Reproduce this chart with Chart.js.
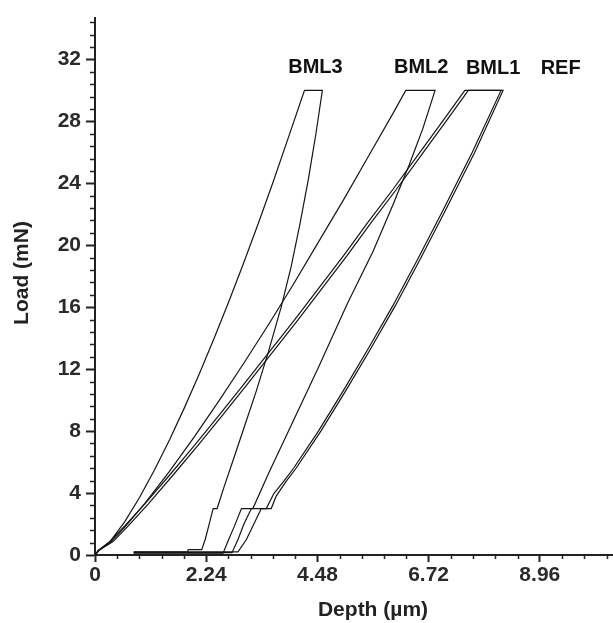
<!DOCTYPE html>
<html><head><meta charset="utf-8">
<script src="https://cdn.jsdelivr.net/npm/chart.js@4.4.0/dist/chart.umd.min.js"></script>
<style>
html,body{margin:0;padding:0;background:#fff;overflow:hidden;width:613px;height:623px}
#wrap{position:relative;width:652px;height:623px}
</style></head><body><div id="wrap"><canvas id="c" width="652" height="623"></canvas></div>
<script>
// ---- data (depth in µm, load in mN) ----
const seriesNames = ['REF', 'BML1', 'BML2', 'BML3'];

const refDepth = [0,0.08,0.37,0.67,1.07,1.57,2.07,2.57,3.07,3.57,4.07,4.57,5.07,5.57,6.07,6.57,7.07,7.52,
  8.22,7.65,7.05,6.55,6.05,5.55,5.05,4.55,4.05,3.85,3.65,3.55,3.35,3.2,3.05,2.88,0.78];
const refLoad  = [0,0.3,0.88,1.88,3.29,5.15,7.06,9.03,11.03,13.07,15.1,17.2,19.3,21.5,23.6,25.8,28.0,30,
  30,26.0,22.2,19.1,16.1,13.3,10.6,8.0,5.6,4.75,3.8,3.0,3.0,2.0,1.0,0.2,0.2];

const bml1Depth = [0,0.08,0.3,0.6,1.0,1.5,2.0,2.5,3.0,3.5,4.0,4.5,5.0,5.5,6.0,6.5,7.0,7.45,
  8.18,7.6,7.0,6.5,6.0,5.5,5.0,4.5,4.0,3.8,3.6,3.45,3.15,3.0,2.88,2.76,0.78];
const bml1Load  = [0,0.3,0.88,1.88,3.29,5.15,7.06,9.03,11.03,13.07,15.1,17.2,19.3,21.5,23.6,25.8,28.0,30,
  30,26.0,22.2,19.1,16.1,13.3,10.6,8.0,5.6,4.75,3.95,3.0,3.0,2.0,1.0,0.15,0.15];

const bml2Depth = [0,0.08,0.3,0.6,1.0,1.5,2.0,2.5,3.0,3.5,4.0,4.5,5.0,5.5,6.0,6.26,
  6.85,6.6,6.33,6.0,5.6,5.08,4.5,4.0,3.5,3.18,2.95,2.8,2.68,2.58,0.78];
const bml2Load  = [0,0.3,0.78,1.80,3.32,5.40,7.63,9.97,12.4,14.9,17.5,20.2,22.9,25.7,28.5,30,
  30,27.5,25.2,22.6,19.6,16.2,12.1,8.7,5.3,3.0,3.0,1.8,0.9,0.12,0.12];

const bml3Depth = [0,0.06,0.3,0.6,0.9,1.2,1.5,1.8,2.1,2.4,2.7,3.0,3.3,3.6,3.9,4.22,
  4.58,4.45,4.3,4.13,3.95,3.75,3.5,3.25,3.0,2.78,2.6,2.46,2.38,2.3,2.22,2.15,1.88,1.86,0.78];
const bml3Load  = [0,0.3,0.85,2.16,3.73,5.50,7.43,9.50,11.69,14.0,16.4,18.9,21.5,24.2,27.0,30,
  30,27.2,24.3,21.4,18.6,16.0,13.2,10.6,8.2,6.1,4.4,3.0,3.0,2.0,1.0,0.35,0.35,0.18,0.18];

// tick label values
const xMajorTicks = [0, 2.24, 4.48, 6.72, 8.96];
const yMajorTicks = [0, 4, 8, 12, 16, 20, 24, 28, 32];

// curve label anchors (depth, load)
const labelDepth = [9.38, 8.02, 6.57, 4.44];
const labelLoad  = [31.4, 31.4, 31.5, 31.5];

// ---- chart ----
function pts(d, l){ return d.map((v,i)=>({x:v, y:l[i]})); }
const allDepth = [refDepth, bml1Depth, bml2Depth, bml3Depth];
const allLoad  = [refLoad, bml1Load, bml2Load, bml3Load];

const datasets = seriesNames.map((n,i)=>({
  label:n, data:pts(allDepth[i], allLoad[i]), showLine:true, pointRadius:0,
  borderColor:'#151515', borderWidth:1.2, tension:0, fill:false
}));

const isMajorX = v => xMajorTicks.some(t=>Math.abs(t-v)<1e-6);
const isMajorY = v => yMajorTicks.some(t=>Math.abs(t-v)<1e-6);
const FONT = '"Liberation Sans", Arial, sans-serif';

const extras = {
  id:'extras',
  afterDraw(chart){
    const ctx = chart.ctx; ctx.save();
    ctx.strokeStyle='#222'; ctx.lineWidth=1.5;
    const xs = chart.scales.x, ys = chart.scales.y, ca = chart.chartArea;
    xs.ticks.forEach(t=>{ if(!isMajorX(t.value)){ const p=Math.round(xs.getPixelForValue(t.value))+0.5;
      ctx.beginPath(); ctx.moveTo(p, ca.bottom); ctx.lineTo(p, ca.bottom+4); ctx.stroke(); }});
    ys.ticks.forEach(t=>{ if(!isMajorY(t.value)){ const p=Math.round(ys.getPixelForValue(t.value))+0.5;
      ctx.beginPath(); ctx.moveTo(ca.left, p); ctx.lineTo(ca.left-5, p); ctx.stroke(); }});
    // curve labels
    ctx.fillStyle='#111'; ctx.font='bold 20px ' + FONT;
    ctx.textAlign='center'; ctx.textBaseline='middle';
    seriesNames.forEach((n,i)=>{
      ctx.fillText(n, xs.getPixelForValue(labelDepth[i]), ys.getPixelForValue(labelLoad[i]));
    });
    // y axis title
    ctx.fillStyle='#222'; ctx.font='bold 21px ' + FONT;
    ctx.translate(22, 273); ctx.rotate(-Math.PI/2);
    ctx.fillText('Load (mN)', 0, 0);
    ctx.restore();
  }
};

new Chart(document.getElementById('c'), {
  type:'scatter',
  data:{datasets},
  options:{
    responsive:false, animation:false, devicePixelRatio:1,
    layout:{padding:{left:0, top:13, right:1, bottom:0}},
    plugins:{legend:{display:false}, tooltip:{enabled:false}},
    scales:{
      x:{
        type:'linear', min:0, max:11.2,
        afterFit(s){ s.height = 68; },
        ticks:{ stepSize:0.448, autoSkip:false, maxRotation:0, padding:1, color:'#2a2a2a',
          font:{family:FONT, size:21, weight:'bold'},
          callback:(v)=> (isMajorX(v) ? (v===0?'0':v.toFixed(2)) : '') },
        grid:{ drawOnChartArea:false, drawTicks:true, tickLength:7, tickWidth:2,
          tickColor:(c)=> (c.tick && isMajorX(c.tick.value)) ? '#222' : 'rgba(0,0,0,0)' },
        border:{display:true, color:'#222', width:2},
        title:{display:true, text:'Depth (µm)', color:'#222', padding:{top:0,bottom:0},
          font:{family:FONT, size:21, weight:'bold'}}
      },
      y:{
        type:'linear', min:0, max:34.7,
        afterFit(s){ s.width = 95; },
        ticks:{ stepSize:0.8, includeBounds:false, autoSkip:false, padding:5, color:'#2a2a2a',
          font:{family:FONT, size:21, weight:'bold'},
          callback:(v)=> (isMajorY(v) ? String(Math.round(v)) : '') },
        grid:{ drawOnChartArea:false, drawTicks:true, tickLength:9, tickWidth:2,
          tickColor:(c)=> (c.tick && isMajorY(c.tick.value)) ? '#222' : 'rgba(0,0,0,0)' },
        border:{display:true, color:'#222', width:2},
        title:{display:false}
      }
    }
  },
  plugins:[extras]
});
</script></body></html>
